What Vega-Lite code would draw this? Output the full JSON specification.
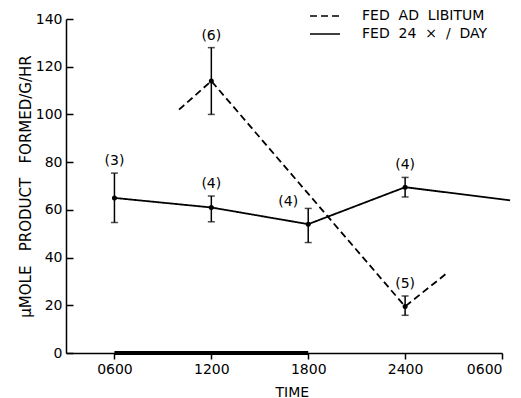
{
  "$schema": "https://vega.github.io/schema/vega-lite/v6.json",
  "width": 436,
  "height": 334,
  "autosize": "none",
  "padding": {"left": 66, "top": 19, "right": 19, "bottom": 45},
  "background": "white",
  "config": {
    "view": {"stroke": null},
    "font": "DejaVu Sans",
    "axis": {
      "grid": false,
      "ticks": true,
      "domainColor": "black",
      "domainWidth": 1.5,
      "tickColor": "black",
      "tickWidth": 1.5,
      "labelColor": "black",
      "titleColor": "black",
      "labelFont": "DejaVu Sans",
      "titleFont": "DejaVu Sans",
      "labelFontSize": 14,
      "titleFontSize": 14,
      "titleFontWeight": "normal"
    },
    "legend": {
      "labelFont": "DejaVu Sans",
      "labelFontSize": 14,
      "labelColor": "black"
    }
  },
  "datasets": {
    "lines": [
      {"series": "FED AD LIBITUM", "hour": 10, "value": 102},
      {"series": "FED AD LIBITUM", "hour": 12, "value": 114},
      {"series": "FED AD LIBITUM", "hour": 24, "value": 19.5},
      {"series": "FED AD LIBITUM", "hour": 26.5, "value": 33},
      {"series": "FED 24 × / DAY", "hour": 6, "value": 65},
      {"series": "FED 24 × / DAY", "hour": 12, "value": 61},
      {"series": "FED 24 × / DAY", "hour": 18, "value": 54},
      {"series": "FED 24 × / DAY", "hour": 24, "value": 69.5},
      {"series": "FED 24 × / DAY", "hour": 30.5, "value": 64}
    ],
    "obs": [
      {"series": "FED 24 × / DAY", "hour": 6, "mean": 65, "lo": 54.7, "hi": 75.4, "n": "(3)"},
      {"series": "FED 24 × / DAY", "hour": 12, "mean": 61, "lo": 55, "hi": 65.8, "n": "(4)"},
      {"series": "FED 24 × / DAY", "hour": 18, "mean": 54, "lo": 46.3, "hi": 60.6, "n": "(4)"},
      {"series": "FED 24 × / DAY", "hour": 24, "mean": 69.5, "lo": 65.4, "hi": 73.6, "n": "(4)"},
      {"series": "FED AD LIBITUM", "hour": 12, "mean": 114, "lo": 100, "hi": 128, "n": "(6)"},
      {"series": "FED AD LIBITUM", "hour": 24, "mean": 19.5, "lo": 15.8, "hi": 23.9, "n": "(5)"}
    ],
    "dark": [
      {"start": 6, "end": 18, "level": 0}
    ]
  },
  "layer": [
    {
      "data": {"name": "lines"},
      "mark": {"type": "line", "color": "black", "strokeWidth": 1.8, "clip": false},
      "encoding": {
        "x": {"field": "hour", "type": "quantitative",
          "scale": {"domain": [3, 30], "nice": false, "zero": false},
          "axis": {
            "values": [6, 12, 18, 24, 30],
            "labelExpr": "datum.value == 6 || datum.value == 30 ? '0600' : datum.value + '00'",
            "tickSize": 6,
            "labelPadding": 3,
            "title": "TIME",
            "titleAnchor": "start",
            "titleX": 209,
            "titleY": 39,
            "titleBaseline": "middle"
          }
        },
        "y": {"field": "value", "type": "quantitative",
          "scale": {"domain": [0, 140], "nice": false},
          "axis": {
            "values": [0, 20, 40, 60, 80, 100, 120, 140],
            "tickSize": -7,
            "labelPadding": 11,
            "title": "μMOLE\u00a0\u00a0\u00a0PRODUCT\u00a0\u00a0\u00a0FORMED/G/HR",
            "titleFontSize": 15,
            "titlePadding": 2
          }
        },
        "strokeDash": {
          "field": "series", "type": "nominal",
          "scale": {"domain": ["FED AD LIBITUM", "FED 24 × / DAY"], "range": [[7, 4], [1, 0]]},
          "legend": {
            "title": null,
            "orient": "none",
            "legendX": 252,
            "legendY": -10,
            "symbolType": "M-3,0H3",
            "symbolSize": 100,
            "symbolStrokeWidth": 1.6,
            "symbolStrokeColor": "black",
            "symbolFillColor": "transparent",
            "labelOffset": 30,
            "rowPadding": 4,
            "labelExpr": "replace(datum.label, / /g, '\u00a0\u00a0')"
          }
        }
      }
    },
    {
      "data": {"name": "dark"},
      "mark": {"type": "rule", "color": "black", "strokeWidth": 4},
      "encoding": {
        "x": {"field": "start", "type": "quantitative"},
        "x2": {"field": "end"},
        "y": {"field": "level", "type": "quantitative"}
      }
    },
    {
      "data": {"name": "obs"},
      "mark": {"type": "rule", "color": "black", "strokeWidth": 1.5},
      "encoding": {
        "x": {"field": "hour", "type": "quantitative"},
        "y": {"field": "lo", "type": "quantitative"},
        "y2": {"field": "hi"}
      }
    },
    {
      "data": {"name": "obs"},
      "mark": {"type": "tick", "color": "black", "orient": "horizontal", "size": 7, "thickness": 1.5},
      "encoding": {
        "x": {"field": "hour", "type": "quantitative"},
        "y": {"field": "lo", "type": "quantitative"}
      }
    },
    {
      "data": {"name": "obs"},
      "mark": {"type": "tick", "color": "black", "orient": "horizontal", "size": 7, "thickness": 1.5},
      "encoding": {
        "x": {"field": "hour", "type": "quantitative"},
        "y": {"field": "hi", "type": "quantitative"}
      }
    },
    {
      "data": {"name": "obs"},
      "mark": {"type": "point", "filled": true, "color": "black", "size": 25, "opacity": 1},
      "encoding": {
        "x": {"field": "hour", "type": "quantitative"},
        "y": {"field": "mean", "type": "quantitative"}
      }
    },
    {
      "data": {"name": "obs"},
      "transform": [{"filter": "datum.hour != 18"}],
      "mark": {"type": "text", "color": "black", "fontSize": 14, "baseline": "middle", "dy": -12},
      "encoding": {
        "x": {"field": "hour", "type": "quantitative"},
        "y": {"field": "hi", "type": "quantitative"},
        "text": {"field": "n"}
      }
    },
    {
      "data": {"name": "obs"},
      "transform": [{"filter": "datum.hour == 18"}],
      "mark": {"type": "text", "color": "black", "fontSize": 14, "baseline": "middle", "dx": -20, "dy": -6},
      "encoding": {
        "x": {"field": "hour", "type": "quantitative"},
        "y": {"field": "hi", "type": "quantitative"},
        "text": {"field": "n"}
      }
    }
  ]
}
